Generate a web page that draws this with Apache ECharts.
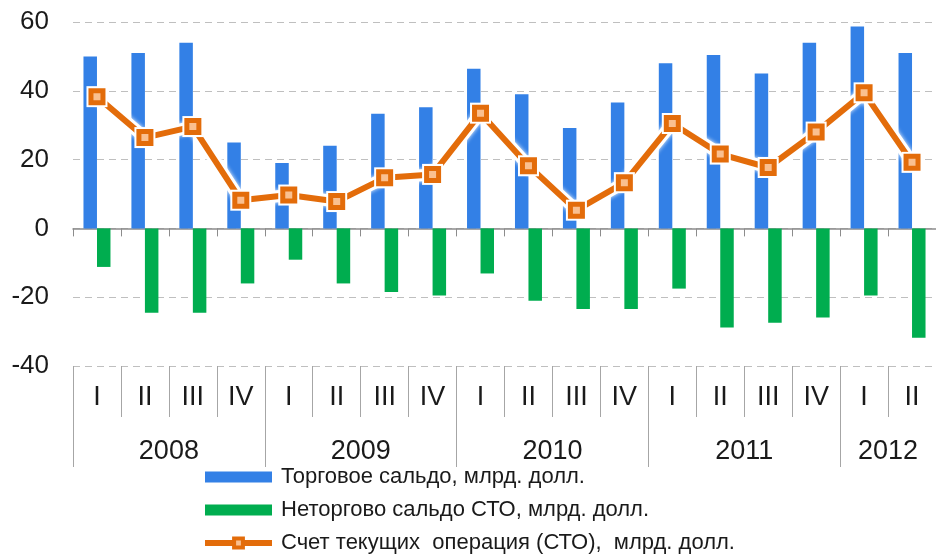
<!DOCTYPE html>
<html>
<head>
    <meta charset="utf-8" />
    <title></title>
    <style>
        html, body { margin: 0; padding: 0; background: #fff; overflow: hidden; }
    </style>
</head>
<body>
    <div id="chart" style="width: 936px; height: 555px;"></div>
</body>
<script src="https://cdn.jsdelivr.net/npm/echarts@6/dist/echarts.min.js"></script>
<script>
    var quarters = ['I', 'II', 'III', 'IV', 'I', 'II', 'III', 'IV', 'I', 'II', 'III', 'IV', 'I', 'II', 'III', 'IV', 'I', 'II'];
    var years = ['2008', '2009', '2010', '2011', '2012'];
    var yearSpans = [4, 4, 4, 4, 2];
    var yTicks = [-40, -20, 0, 20, 40, 60];

    var tradeBalance = [50, 51, 54, 25, 19, 24, 33.3, 35.2, 46.4, 39, 29.2, 36.6, 48, 50.4, 45, 54, 58.7, 51];
    var nonTradeBalance = [-11.2, -24.5, -24.5, -16, -9.1, -16, -18.5, -19.5, -13.1, -21, -23.4, -23.4, -17.5, -28.8, -27.4, -25.9, -19.5, -31.8];
    var currentAccount = [38.3, 26.4, 29.6, 8.2, 9.7, 7.8, 14.7, 15.7, 33.5, 18.2, 5.3, 13.3, 30.5, 21.6, 17.7, 28, 39.4, 19.2];

    var names = ['Торговое сальдо, млрд. долл.', 'Неторгово сальдо СТО, млрд. долл.', 'Счет текущих  операция (СТО),  млрд. долл.'];

    // year row: half-quarter points, label in the middle of each year, divider at its start
    var yearPoints = [];
    var yearLabelIdx = {};
    var yearTickIdx = {};
    var start = 0;
    for (var k = 0; k < years.length; k++) {
        yearTickIdx[start * 2] = true;
        yearLabelIdx[start * 2 + yearSpans[k]] = years[k];
        start += yearSpans[k];
    }
    yearTickIdx[start * 2] = true;
    for (var p = 0; p <= start * 2; p++) yearPoints.push(yearLabelIdx[p] || '');

    var font = 'Liberation Sans, Arial, sans-serif';
    var orange = '#e36c0a';
    var chart = echarts.init(document.getElementById('chart'));
    chart.setOption({
        animation: false,
        grid: { left: 73, right: -5, top: 22, bottom: 189, containLabel: false },
        legend: {
            orient: 'vertical',
            left: 202,
            top: 466,
            padding: 0,
            itemWidth: 67,
            itemHeight: 11,
            itemGap: 11,
            textStyle: { fontFamily: font, fontSize: 22, color: '#1a1a1a', padding: [0, 0, 0, 4] },
            data: [
                { name: names[0], icon: 'rect' },
                { name: names[1], icon: 'rect' },
                {
                    name: names[2],
                    lineStyle: { width: 6, color: orange },
                    itemStyle: { color: '#fac090', borderColor: orange, borderWidth: 4 }
                }
            ]
        },
        xAxis: [
            {
                type: 'category',
                data: quarters,
                position: 'bottom',
                axisLine: { onZero: true, lineStyle: { color: '#8c8c8c', width: 1.5 } },
                axisTick: { show: true, interval: 0, length: 8, lineStyle: { color: '#8c8c8c' } },
                axisLabel: { show: false }
            },
            {
                type: 'category',
                data: quarters,
                position: 'bottom',
                axisLine: { show: false, onZero: false },
                axisTick: { show: true, interval: 0, length: 51, lineStyle: { color: '#a6a6a6' } },
                axisLabel: { interval: 0, margin: 18, fontFamily: font, fontSize: 27, color: '#1a1a1a' }
            },
            {
                type: 'category',
                data: yearPoints,
                boundaryGap: false,
                position: 'bottom',
                axisLine: { show: false, onZero: false },
                axisTick: {
                    show: true,
                    length: 101,
                    interval: function (i) { return !!yearTickIdx[i]; },
                    lineStyle: { color: '#a6a6a6' }
                },
                axisLabel: {
                    interval: function (i) { return !!yearLabelIdx[i]; },
                    margin: 72,
                    fontFamily: font,
                    fontSize: 27,
                    color: '#1a1a1a'
                }
            }
        ],
        yAxis: {
            type: 'value',
            min: yTicks[0],
            max: yTicks[yTicks.length - 1],
            interval: 20,
            axisLine: { show: false },
            axisTick: { show: false },
            axisLabel: { margin: 24, fontFamily: font, fontSize: 26, color: '#1a1a1a' },
            splitLine: { lineStyle: { color: '#bfbfbf', type: [7, 5], width: 1 } }
        },
        series: [
            {
                name: names[0],
                type: 'bar',
                data: tradeBalance,
                barWidth: 13.5,
                barGap: '0%',
                itemStyle: { color: '#3380e6' }
            },
            {
                name: names[1],
                type: 'bar',
                data: nonTradeBalance,
                barWidth: 13.5,
                barGap: '0%',
                itemStyle: { color: '#00ad4f' }
            },
            {
                // white halo under the orange line
                name: 'halo',
                type: 'line',
                data: currentAccount,
                symbol: 'rect',
                symbolSize: 21,
                silent: true,
                lineStyle: { color: '#fff', width: 12, shadowColor: '#fff', shadowBlur: 4 },
                itemStyle: { color: '#fff' }
            },
            {
                name: names[2],
                type: 'line',
                data: currentAccount,
                symbol: 'rect',
                symbolSize: 12,
                lineStyle: { color: orange, width: 6 },
                itemStyle: { color: '#fac090', borderColor: orange, borderWidth: 5 }
            }
        ]
    });
</script>
</html>
